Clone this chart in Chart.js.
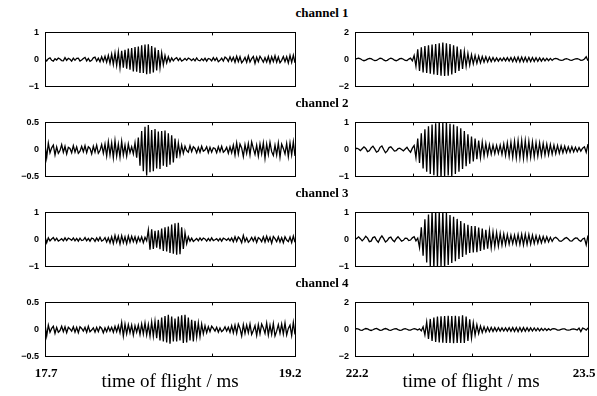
<!DOCTYPE html>
<html>
<head>
<meta charset="utf-8">
<script src="https://cdn.jsdelivr.net/npm/chart.js@4.4.1/dist/chart.umd.min.js"></script>
<style>
    body { margin: 0; background: #fff; }
    #wrap { position: relative; width: 597px; height: 396px; overflow: hidden; background: #fff; }
    #wrap canvas { position: absolute; }
    .title { position: absolute; font-family: "Liberation Serif", "Times New Roman", serif; font-weight: bold; font-size: 13px; color: #000; white-space: nowrap; transform: translateX(-50%); }
    .xlab { position: absolute; font-family: "Liberation Serif", "Times New Roman", serif; font-weight: bold; font-size: 13px; color: #000; white-space: nowrap; transform: translateX(-50%); top: 365px; }
    .xtitle { position: absolute; font-family: "Liberation Serif", "Times New Roman", serif; font-size: 19px; color: #000; white-space: nowrap; transform: translateX(-50%); top: 370px; }
</style>
</head>
<body>
<div id="wrap"></div>
<script>
// Ultrasonic time-of-flight traces, 4 channels x 2 windows

const channelNames = ['channel 1', 'channel 2', 'channel 3', 'channel 4'];
const leftWindow  = [17.7, 19.2];   // ms
const rightWindow = [22.2, 23.5];   // ms
const sampleStep  = 0.01;           // ms between samples
const xTicksLeft  = [18.2, 18.7];
const xTicksRight = [22.525, 22.85, 23.175];
const xTickLabelsLeft  = ['17.7', '19.2'];
const xTickLabelsRight = ['22.2', '23.5'];
const xAxisTitle = 'time of flight / ms';
const yLimitsLeft  = [1, 0.5, 1, 0.5];
const yLimitsRight = [2, 1, 1, 2];

const ch1Left = [0.02,-0.05,0.03,0.06,-0.03,-0.06,0.03,-0.02,0.05,0.02,-0.04,-0.05,0.07,-0.03,0.04,0.01,-0.06,0.05,-0.03,0.04,0.05,-0.06,-0.02,0.04,0.08,-0.05,0.04,-0.07,-0.03,0.06,0.09,-0.06,0.05,-0.08,0.1,-0.07,
    0.12,-0.1,0.15,-0.14,0.2,-0.18,0.24,-0.22,0.28,-0.3,0.32,-0.3,0.36,-0.34,0.4,-0.38,0.42,-0.44,0.46,-0.45,0.48,-0.5,0.52,-0.5,0.55,-0.54,0.56,-0.52,0.5,-0.48,0.44,-0.4,0.35,-0.3,0.24,-0.2,0.15,-0.12,0.1,-0.08,
    0.06,-0.05,0.03,0.07,-0.04,0.05,-0.06,-0.02,0.04,-0.03,0.05,0.02,-0.04,0.03,-0.05,0.06,-0.03,-0.05,0.03,-0.04,
    0.05,-0.06,0.04,0.02,-0.05,0.07,-0.04,0.06,-0.08,-0.03,0.05,-0.06,0.09,0.04,-0.07,0.1,-0.06,0.08,-0.1,0.12,
    -0.08,0.1,-0.12,-0.04,0.08,-0.1,0.13,-0.09,0.03,0.11,-0.14,0.09,-0.08,0.12,0.02,-0.1,0.07,-0.09,0.11,-0.13,
    0.1,-0.08,0.14,-0.1,0.09,-0.12,-0.03,0.11,-0.08,0.1,-0.13,0.15,-0.11,0.16,-0.12];

const ch1Right = [0,0.06,0.1,0.05,-0.04,-0.09,-0.05,0.03,0.08,0.06,-0.02,-0.08,-0.07,0.02,0.09,0.07,-0.03,-0.1,-0.06,0.04,0.1,0.05,-0.05,-0.09,-0.03,0.06,0.08,0.02,-0.07,-0.08,0.03,0.1,-0.1,
    0.3,-0.5,0.75,-0.85,0.9,-0.95,1.0,-1.0,1.05,-1.05,1.1,-1.1,1.15,-1.15,1.2,-1.2,1.25,-1.22,1.2,-1.2,1.15,-1.1,1.05,-1.0,0.95,-0.85,0.75,-0.7,0.6,-0.5,0.45,-0.4,0.35,-0.32,0.3,-0.28,0.25,-0.25,0.22,-0.2,
    0.2,-0.18,0.17,-0.15,0.15,-0.13,0.12,-0.12,0.1,-0.1,0.12,-0.1,0.14,-0.12,0.15,-0.15,0.17,-0.16,0.18,-0.17,
    0.18,-0.17,0.17,-0.16,0.16,-0.15,0.15,-0.14,0.13,-0.13,0.12,-0.12,0.1,-0.1,0.08,-0.09,0.08,-0.07,
    0.05,0.08,0.04,-0.03,-0.07,-0.04,0.03,0.06,0.02,-0.05,-0.06,0,0.05,0.07,0.02,-0.06,-0.05,0.04,0.2,-0.1];

const ch2Left = [0.1,-0.15,0.12,-0.06,0.03,0.08,-0.1,0.05,-0.07,-0.02,0.09,-0.05,0.06,-0.08,0.04,0.02,-0.06,0.07,-0.05,0.05,-0.07,-0.03,0.06,-0.04,0.07,-0.06,0.05,0.02,-0.08,0.06,-0.05,0.08,-0.07,-0.02,0.09,-0.07,0.1,
    -0.12,0.14,-0.1,0.12,-0.15,0.16,-0.12,0.1,-0.14,0.15,-0.1,0.08,-0.12,0.1,-0.06,0.05,-0.08,0.12,
    -0.15,0.22,-0.3,0.34,-0.4,0.42,-0.48,0.45,-0.42,0.36,-0.4,0.38,-0.35,0.33,-0.36,0.34,-0.3,0.35,-0.32,0.3,-0.28,0.26,-0.24,0.2,-0.16,0.12,-0.1,0.08,
    -0.07,0.06,-0.02,-0.05,0.07,-0.04,0.05,0.02,-0.06,0.04,-0.05,0.06,-0.03,-0.01,0.05,-0.06,0.04,-0.05,0.03,0.02,-0.06,0.05,-0.04,0.06,-0.05,-0.02,0.04,-0.07,0.05,-0.06,
    0.08,-0.1,0.12,-0.08,0.1,0.03,-0.13,0.09,-0.07,0.11,-0.1,0.14,0.02,-0.09,0.08,-0.12,0.1,-0.08,0.12,-0.16,
    0.1,-0.09,0.13,-0.04,-0.11,0.08,-0.1,0.12,-0.14,0.1,0.02,-0.08,0.11,-0.13,0.12,-0.1,0.14,-0.12];

const ch2Right = [0,0.05,0.02,-0.04,0.03,0.1,0.04,-0.08,-0.05,0.06,0.12,0.02,-0.1,-0.06,0.08,0.13,0,-0.12,-0.05,0.07,0.1,0.02,-0.06,-0.04,0.03,0.05,0,-0.05,0.02,0.08,-0.02,-0.1,0.05,0.15,
    -0.3,0.4,-0.5,0.6,-0.7,0.75,-0.82,0.86,-0.9,0.92,-0.95,0.97,-1.0,1.05,-1.05,1.0,-0.98,1.02,-0.96,0.95,-1.0,0.92,-0.9,0.86,-0.82,0.78,-0.72,0.68,-0.62,0.56,-0.52,0.48,-0.44,0.4,-0.36,0.33,-0.3,0.27,-0.24,0.22,-0.2,0.18,-0.17,0.16,-0.15,0.15,-0.14,
    0.16,-0.18,0.2,-0.22,0.24,-0.25,0.27,-0.28,0.3,-0.3,0.32,-0.3,0.33,-0.32,0.32,-0.3,0.3,-0.28,0.28,-0.27,0.25,-0.24,0.24,-0.22,0.22,-0.2,0.2,-0.19,0.18,-0.17,
    0.16,-0.15,0.15,-0.14,0.13,-0.12,0.12,-0.11,0.1,-0.1,0.1,-0.09,0.08,-0.08,0.07,-0.06,0.05,0.1,-0.1,0.2];

const ch3Left = [0.1,-0.12,0.06,-0.05,0.02,0.07,-0.04,0.05,-0.06,-0.02,0.03,-0.05,0.06,-0.04,0.05,0.02,-0.03,0.06,-0.05,0.04,
    -0.06,0.05,-0.04,-0.02,0.07,-0.05,0.04,-0.06,0.05,0.03,-0.07,0.06,-0.05,0.08,-0.06,-0.02,0.07,-0.09,0.06,
    -0.12,0.1,-0.14,0.15,-0.1,0.12,-0.16,0.14,-0.12,0.1,-0.15,0.13,-0.1,0.12,-0.08,0.1,-0.12,0.09,-0.07,0.1,-0.12,0.08,-0.05,
    0.35,-0.38,0.38,-0.35,0.32,-0.3,0.34,-0.36,0.4,-0.42,0.45,-0.44,0.48,-0.5,0.55,-0.52,0.6,-0.56,0.62,-0.54,0.45,-0.35,0.25,-0.15,0.1,
    -0.06,0.05,-0.07,-0.02,0.04,-0.05,0.06,-0.03,0.05,0.02,-0.06,0.04,-0.05,0.06,-0.04,-0.01,0.03,-0.05,0.04,-0.06,0.05,0.02,-0.03,0.04,-0.05,0.06,
    -0.08,0.1,-0.07,0.09,0.02,-0.12,0.15,-0.08,0.06,-0.1,-0.03,0.08,-0.06,0.09,-0.11,0.07,0.02,-0.08,0.1,-0.09,
    0.12,-0.07,0.08,-0.14,0.11,0.03,-0.08,0.1,-0.09,0.07,-0.12,0.1,-0.02,-0.08,0.09,-0.11,0.13,-0.1];

const ch3Right = [0,0.04,0.1,0.03,-0.05,0.02,0.12,0.05,-0.08,-0.06,0.07,0.1,-0.02,-0.1,0.04,0.13,0.03,-0.09,-0.04,0.06,0.09,-0.02,-0.08,0.03,0.1,0.02,-0.06,-0.03,0.05,0.04,-0.04,-0.02,0.06,0.1,-0.05,0.05,
    -0.3,0.45,-0.6,0.75,-0.85,0.92,-0.98,1.05,-1.05,1.05,-1.0,1.02,-0.98,1.05,-1.05,0.98,-0.94,0.9,-0.87,0.84,-0.8,0.76,-0.72,0.68,-0.64,0.6,-0.56,0.54,-0.5,0.5,-0.48,0.5,-0.47,0.44,-0.42,0.4,-0.38,0.36,-0.34,0.32,-0.3,0.28,-0.26,0.25,-0.24,0.22,-0.21,0.2,-0.19,0.18,
    -0.17,0.16,-0.15,0.16,-0.17,0.18,-0.18,0.19,-0.2,0.19,-0.18,0.18,-0.17,0.16,-0.15,0.14,-0.13,0.12,-0.12,0.11,-0.1,0.1,-0.09,0.08,-0.07,
    0.05,0.08,0.03,-0.05,-0.07,-0.02,0.04,0.07,0.02,-0.05,-0.06,0.01,0.06,0.05,-0.03,-0.07,0.02,0.05,-0.2,0.15];

const ch4Left = [0.1,-0.12,0.08,-0.05,0.02,0.06,-0.07,0.04,-0.05,-0.02,0.06,-0.04,0.05,-0.06,0.04,0.01,-0.03,0.05,-0.05,0.04,
    -0.06,0.05,0.02,-0.03,0.04,-0.05,0.06,-0.04,-0.01,0.03,-0.05,0.04,-0.04,0.05,0.02,-0.06,0.03,-0.04,0.05,-0.03,
    0.04,-0.05,0.06,-0.04,0.07,-0.06,0.13,
    -0.12,0.1,-0.08,0.09,-0.06,0.08,-0.1,0.07,-0.05,0.08,-0.09,0.1,-0.08,0.12,-0.1,0.09,-0.12,0.14,
    -0.12,0.15,-0.16,0.18,-0.2,0.22,-0.22,0.25,-0.24,0.27,-0.26,0.24,-0.22,0.2,-0.22,0.24,-0.2,0.26,-0.25,0.27,-0.24,0.22,-0.2,0.18,-0.22,0.16,-0.14,0.12,-0.13,0.1,-0.08,0.07,-0.06,
    0.05,-0.04,0.06,0.02,-0.03,0.04,-0.05,0.03,-0.04,-0.01,0.05,-0.03,0.04,-0.05,0.07,
    -0.06,0.08,-0.07,0.1,0.02,-0.12,0.09,-0.07,0.08,-0.06,0.1,-0.09,-0.02,0.07,-0.11,0.09,-0.08,0.1,0.03,-0.07,
    0.12,-0.1,0.08,-0.09,0.11,-0.12,-0.03,0.09,-0.07,0.1,-0.08,0.12,-0.1,0.02,0.08,-0.11,0.13,-0.09];

const ch4Right = [0.02,0.06,0.03,-0.04,-0.06,0.02,0.07,0.04,-0.03,-0.07,-0.02,0.05,0.08,0.01,-0.06,-0.05,0.03,0.07,0.03,-0.04,-0.06,0,0.05,0.06,-0.01,-0.06,-0.04,0.03,0.06,0.02,-0.05,-0.05,0.02,0.06,0.03,-0.04,0.05,-0.1,
    0.2,-0.4,0.55,-0.7,0.78,-0.85,0.88,-0.92,0.95,-0.96,0.98,-0.98,1.0,-1.0,1.02,-1.0,1.0,-1.02,1.02,-1.0,0.98,-1.0,1.05,-1.0,0.95,-0.85,0.75,-0.62,0.5,-0.42,0.35,-0.3,0.25,-0.22,0.2,
    -0.18,0.17,-0.16,0.15,-0.14,0.14,-0.13,0.13,-0.12,0.12,-0.11,0.12,-0.12,0.13,-0.13,0.14,-0.14,0.15,-0.15,0.15,-0.14,0.14,-0.13,0.13,-0.12,0.12,-0.11,0.11,-0.1,0.1,
    -0.1,0.09,-0.08,0.08,-0.07,0.06,-0.05,0.04,0.06,0.02,-0.04,-0.05,0.01,0.04,0.05,-0.02,-0.05,-0.03,0.03,0.05,0.01,-0.04,0.1,-0.15,0.1,0.05,-0.05,0.12];

const leftTraces  = [ch1Left, ch2Left, ch3Left, ch4Left];
const rightTraces = [ch1Right, ch2Right, ch3Right, ch4Right];

// ── layout (px) ─────────────────────────────────────────────
const rowTops = [29, 119, 209, 299];
const rowHeight = 61;
const pad = 8;
const wrap = document.getElementById('wrap');

function fmtTick(v) {
    return v < 0 ? '\u2212' + Math.abs(v) : String(v);
}

// frame + inward ticks, MATLAB style
const framePlugin = {
    id: 'frame',
    afterDraw(chart, args, opts) {
        const { ctx, chartArea: a } = chart;
        const xs = chart.scales.x;
        ctx.save();
        ctx.strokeStyle = '#000';
        ctx.lineWidth = 1;
        ctx.strokeRect(Math.round(a.left) + 0.5, Math.round(a.top) + 0.5,
            Math.round(a.right - a.left), Math.round(a.bottom - a.top));
        ctx.beginPath();
        opts.ticks.forEach(t => {
            const px = Math.round(xs.getPixelForValue(t)) + 0.5;
            ctx.moveTo(px, a.top); ctx.lineTo(px, a.top + 3);
            ctx.moveTo(px, a.bottom); ctx.lineTo(px, a.bottom - 3);
        });
        ctx.stroke();
        ctx.restore();
    }
};

function makePanel(values, win, lim, ticks, left, width, axisW, padRight, top) {
    const cv = document.createElement('canvas');
    cv.width = width;
    cv.height = rowHeight + pad * 2;
    cv.style.left = left + 'px';
    cv.style.top = (top - pad) + 'px';
    wrap.appendChild(cv);

    const pts = values.map((v, i) => ({ x: win[0] + i * sampleStep, y: v }));

    return new Chart(cv.getContext('2d'), {
        type: 'line',
        data: {
            datasets: [{
                data: pts,
                borderColor: '#000',
                borderWidth: 1.3,
                pointRadius: 0,
                tension: 0,
                fill: false
            }]
        },
        options: {
            responsive: false,
            animation: false,
            events: [],
            layout: { padding: { left: 0, right: padRight, top: pad, bottom: pad } },
            plugins: { legend: { display: false }, tooltip: { enabled: false }, frame: { ticks } },
            scales: {
                x: {
                    type: 'linear', min: win[0], max: win[1],
                    display: false
                },
                y: {
                    min: -lim, max: lim,
                    grid: { display: false, drawTicks: false },
                    border: { display: false },
                    afterFit: s => { s.width = axisW; },
                    afterBuildTicks: s => { s.ticks = [{ value: -lim }, { value: 0 }, { value: lim }]; },
                    ticks: {
                        padding: 6,
                        color: '#000',
                        font: { family: 'Liberation Sans, Arial, sans-serif', size: 9, weight: 'bold' },
                        callback: v => fmtTick(v)
                    }
                }
            }
        },
        plugins: [framePlugin]
    });
}

rowTops.forEach((top, r) => {
    makePanel(leftTraces[r], leftWindow, yLimitsLeft[r], xTicksLeft, 0, 300, 45, 5, top);
    makePanel(rightTraces[r], rightWindow, yLimitsRight[r], xTicksRight, 300, 297, 55, 9, top);

    const t = document.createElement('div');
    t.className = 'title';
    t.textContent = channelNames[r];
    t.style.left = '322px';
    t.style.top = (top - 24) + 'px';
    wrap.appendChild(t);
});

// bottom axis labels
[[xTickLabelsLeft[0], 46], [xTickLabelsLeft[1], 290], [xTickLabelsRight[0], 357], [xTickLabelsRight[1], 584]]
    .forEach(([txt, x]) => {
        const d = document.createElement('div');
        d.className = 'xlab';
        d.textContent = txt;
        d.style.left = x + 'px';
        wrap.appendChild(d);
    });
[170, 471].forEach(x => {
    const d = document.createElement('div');
    d.className = 'xtitle';
    d.textContent = xAxisTitle;
    d.style.left = x + 'px';
    wrap.appendChild(d);
});
</script>
</body>
</html>
